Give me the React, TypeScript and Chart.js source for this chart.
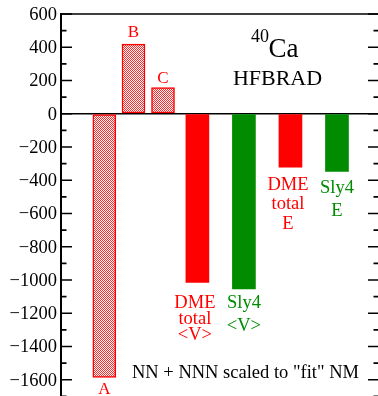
import React, { useEffect, useRef } from "react";
import { Chart, registerables } from "chart.js";

Chart.register(...registerables);

// ---- data ----
const barLabels = ["A", "B", "C", "DME total <V>", "Sly4 <V>", "DME total E", "Sly4 E"];
const barPositions = [2.0, 2.627, 3.261, 4, 5, 6, 7];
const barValues = [-1586, 419, 158, -1015, -1054, -321, -347];
const yTickMin = -1800;
const yTickMax = 600;
const yMajorStep = 200;
const yMinorStep = 100;
const nucleusMass = "40";
const nucleusSymbol = "Ca";
const codeName = "HFBRAD";
const footnote = 'NN + NNN scaled to "fit" NM';

const RED = "#ff0000";
const GREEN = "rgb(0,139,0)";
const FONT = "Liberation Serif";
const FONT_CSS = `"${FONT}", "Times New Roman", serif`;

const W = 392;
const H = 430;

function makeHatch(): CanvasPattern | string {
  const c = document.createElement("canvas");
  c.width = 2;
  c.height = 2;
  const g = c.getContext("2d");
  if (!g) return "#ff8080";
  g.fillStyle = "#ffffff";
  g.fillRect(0, 0, 2, 2);
  g.fillStyle = "#ff2a2a";
  g.fillRect(0, 0, 1, 1);
  g.fillRect(1, 1, 1, 1);
  const p = g.createPattern(c, "repeat");
  return p || "#ff8080";
}

function fmtTick(v: number): string {
  return v < 0 ? "\u2212" + Math.abs(v) : String(v);
}

type Note = { lines: string[]; color: string; below: boolean; offset: number; spacing: number; dx: number; size: number };

const notes: Note[] = [
  { lines: ["A"], color: RED, below: true, offset: 16.5, spacing: 0, dx: 0, size: 17 },
  { lines: ["B"], color: RED, below: false, offset: 7, spacing: 0, dx: 0, size: 17 },
  { lines: ["C"], color: RED, below: false, offset: 4.7, spacing: 0, dx: 0, size: 17 },
  { lines: ["DME", "total", "<V>"], color: RED, below: true, offset: 25.3, spacing: 16, dx: -2.5, size: 18.5 },
  { lines: ["Sly4", "<V>"], color: GREEN, below: true, offset: 18.7, spacing: 23.5, dx: 0, size: 18.5 },
  { lines: ["DME", "total", "E"], color: RED, below: true, offset: 22.7, spacing: 19.5, dx: -2.5, size: 18.5 },
  { lines: ["Sly4", "E"], color: GREEN, below: true, offset: 21.3, spacing: 23.7, dx: 0, size: 18.5 },
];

const framePlugin = {
  id: "frame",
  afterDatasetsDraw(chart: any) {
    const { ctx, chartArea } = chart;
    const ys = chart.scales.y;
    const xs = chart.scales.x;
    const { left, right, top, bottom } = chartArea;
    ctx.save();
    ctx.strokeStyle = "#000";
    ctx.lineWidth = 1.6;
    ctx.beginPath();
    ctx.moveTo(left, top);
    ctx.lineTo(right, top);
    ctx.lineTo(right, bottom);
    ctx.stroke();
    // inward ticks
    for (let v = yTickMin; v <= yTickMax; v += yMinorStep) {
      const y = ys.getPixelForValue(v);
      const len = v % yMajorStep === 0 ? 11 : 5.5;
      ctx.beginPath();
      ctx.moveTo(left, y);
      ctx.lineTo(left + len, y);
      ctx.moveTo(right, y);
      ctx.lineTo(right - len, y);
      ctx.stroke();
    }
    // tick labels from the scale's ticks
    ctx.fillStyle = "#000";
    ctx.font = `18.5px ${FONT_CSS}`;
    ctx.textAlign = "right";
    ctx.textBaseline = "middle";
    ys.ticks.forEach((t: any) => {
      const y = ys.getPixelForValue(t.value);
      ctx.fillText(fmtTick(t.value), left - 4, y + 1);
    });
    // bar annotations
    ctx.textAlign = "center";
    ctx.textBaseline = "alphabetic";
    notes.forEach((n, i) => {
      const x = xs.getPixelForValue(barPositions[i]) + n.dx;
      const yEnd = ys.getPixelForValue(barValues[i]);
      ctx.fillStyle = n.color;
      ctx.font = `${n.size}px ${FONT_CSS}`;
      n.lines.forEach((line, k) => {
        const y = n.below ? yEnd + n.offset + k * n.spacing : yEnd - n.offset - k * n.spacing;
        ctx.fillText(line, x, y);
      });
    });
    // nucleus label
    ctx.fillStyle = "#000";
    ctx.textAlign = "left";
    ctx.font = `18px ${FONT_CSS}`;
    ctx.fillText(nucleusMass, left + 190, top + 28);
    ctx.font = `27px ${FONT_CSS}`;
    ctx.fillText(nucleusSymbol, left + 207.5, top + 43);
    ctx.textAlign = "center";
    ctx.font = `22px ${FONT_CSS}`;
    ctx.fillText(codeName, left + 216.5, top + 71);
    ctx.textAlign = "left";
    ctx.font = `18.5px ${FONT_CSS}`;
    ctx.fillText(footnote, left + 71, top + 364);
    ctx.restore();
  },
};

export default function App() {
  const ref = useRef<HTMLCanvasElement | null>(null);
  useEffect(() => {
    if (!ref.current) return;
    const hatch = makeHatch();
    const fills = barLabels.map((_, i) => (i < 3 ? hatch : i % 2 === 1 ? RED : GREEN));
    const borders = barLabels.map((_, i) => (i < 3 ? RED : "rgba(0,0,0,0)"));
    const bw = barLabels.map((_, i) => (i < 3 ? 1.5 : 0));
    const chart = new Chart(ref.current, {
      type: "bar",
      data: {
        datasets: [
          {
            label: "energy",
            data: barPositions.map((x, i) => ({ x, y: barValues[i] })),
            backgroundColor: fills as any,
            borderColor: borders,
            borderWidth: bw,
            borderSkipped: false,
            barThickness: 23,
          },
        ],
      },
      options: {
        responsive: false,
        animation: false,
        events: [],
        layout: { padding: { left: 0, top: 14, right: W - 379, bottom: H - 413 } },
        plugins: { legend: { display: false }, tooltip: { enabled: false } },
        scales: {
          x: {
            type: "linear",
            min: 1.069,
            max: 7.903,
            offset: false,
            display: false,
          },
          y: {
            min: yTickMin,
            max: yTickMax,
            afterFit: (s: any) => {
              s.width = 61;
            },
            ticks: {
              stepSize: yMajorStep,
              display: false,
            },
            grid: {
              drawTicks: false,
              color: (c: any) => (c.tick && c.tick.value === 0 ? "#000" : "rgba(0,0,0,0)"),
              lineWidth: 1.5,
            },
            border: { display: true, color: "#000", width: 2 },
          },
        },
      },
      plugins: [framePlugin],
    });
    return () => chart.destroy();
  }, []);
  return (
    <div style={{ position: "fixed", left: 0, top: 0, width: 378, height: 396, overflow: "hidden", background: "#fff" }}>
      <canvas ref={ref} width={W} height={H} style={{ display: "block", width: W, height: H }} />
    </div>
  );
}
